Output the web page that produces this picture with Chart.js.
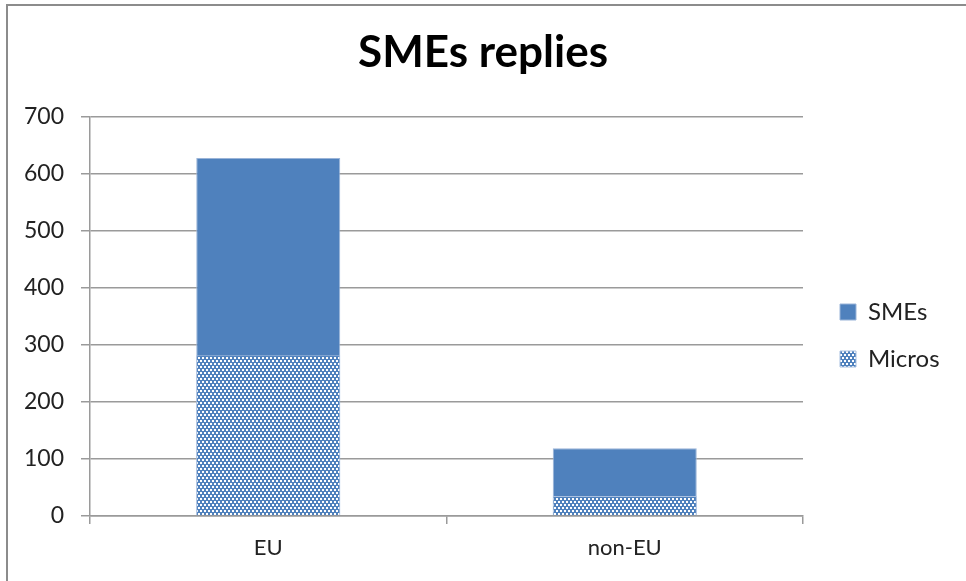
<!DOCTYPE html>
<html>
<head>
<meta charset="utf-8">
<script src="https://cdn.jsdelivr.net/npm/chart.js@4.4.0/dist/chart.umd.min.js"></script>
<style>
  html, body { margin: 0; padding: 0; background: #fff; overflow: hidden; width: 966px; height: 581px; }
  #frame { position: absolute; left: 6px; top: 4px; width: 958px; height: 575px; box-sizing: content-box;
           border-left: 2px solid #8c8c8c; border-top: 2px solid #8c8c8c; }
  #wrap { position: absolute; left: 0; top: 0; width: 966px; height: 581px; }
</style>
</head>
<body>
<div id="frame"></div>
<div id="wrap"><canvas id="c" width="966" height="581"></canvas></div>
<script>
const categories = ["EU", "non-EU"];
const smesValues = [628, 119];
const microsValues = [282, 35];
const yTicks = [0, 100, 200, 300, 400, 500, 600, 700];

const BLUE = '#4F81BD';
function makePattern() {
  const p = document.createElement('canvas');
  p.width = 4; p.height = 6;
  const g = p.getContext('2d');
  g.fillStyle = BLUE; g.fillRect(0, 0, 4, 6);
  g.fillStyle = '#ffffff';
  g.fillRect(0, 0, 2, 2);
  g.fillRect(2, 3, 2, 2);
  return g.createPattern(p, 'repeat');
}
const ctx = document.getElementById('c').getContext('2d');
const pattern = makePattern();

const shiftLegend = {
  id: 'shiftLegend',
  afterLayout(chart) {
    const lg = chart.legend;
    if (!lg) return;
    const dx = 14, dy = 45;
    lg.left += dx; lg.right += dx; lg.top += dy; lg.bottom += dy;
  }
};
const fixLegend = {
  id: 'fixLegend',
  afterInit(chart) {
    const lg = chart.legend;
    if (!lg || lg._patched) return;
    const orig = lg.fit.bind(lg);
    lg.fit = function () { orig(); this.width = 163; };
    lg._patched = true;
  }
};

new Chart(ctx, {
  type: 'bar',
  data: {
    labels: categories,
    datasets: [
      { label: 'Micros', data: microsValues, backgroundColor: pattern,
        borderColor: '#a9c0e0', borderWidth: 1, grouped: false,
        categoryPercentage: 1, barPercentage: 0.404 },
      { label: 'SMEs', data: smesValues, backgroundColor: BLUE,
        borderColor: '#9ab4d8', borderWidth: 1, grouped: false,
        categoryPercentage: 1, barPercentage: 0.404 }
    ]
  },
  options: {
    responsive: false,
    animation: false,
    devicePixelRatio: 1,
    layout: { padding: { left: 0, right: 0, top: 0, bottom: 0 } },
    plugins: {
      title: {
        display: true, text: 'SMEs replies', color: '#000',
        font: { family: 'Lato', size: 44, weight: 'bold' },
        padding: { top: 26.8, bottom: 37.4 }
      },
      legend: {
        display: true, position: 'right', reverse: true,
        labels: {
          font: { family: 'Lato', size: 24 }, color: '#222',
          boxWidth: 16, boxHeight: 16, padding: 23
        }
      },
      tooltip: { enabled: false }
    },
    scales: {
      x: {
        grid: { drawOnChartArea: false, offset: true, color: '#9a9a9a', lineWidth: 1.5, tickLength: 8 },
        border: { color: '#9a9a9a', width: 1.5 },
        ticks: { font: { family: 'Lato', size: 22 }, color: '#222', padding: 11 },
        afterFit(s) { s.height = 65; }
      },
      y: {
        min: 0, max: 700,
        afterBuildTicks(s) { s.ticks = yTicks.map(v => ({ value: v })); },
        grid: { color: '#9a9a9a', lineWidth: 1.5, tickLength: 9 },
        border: { color: '#9a9a9a', width: 1.5 },
        ticks: { font: { family: 'Lato', size: 23 }, color: '#222', padding: 17 },
        afterFit(s) { s.width = 90; }
      }
    }
  },
  plugins: [fixLegend, shiftLegend]
});
</script>
</body>
</html>
